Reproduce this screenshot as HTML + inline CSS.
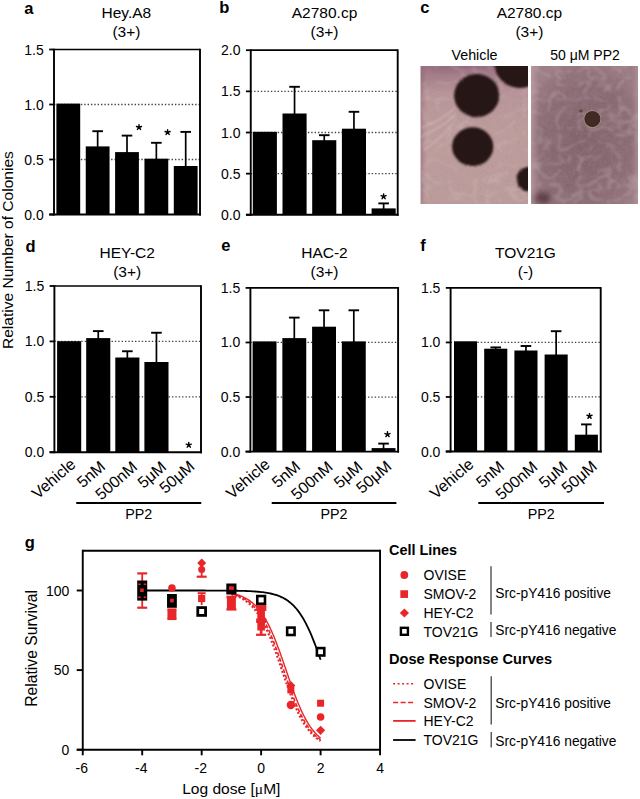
<!DOCTYPE html>
<html><head><meta charset="utf-8"><style>
html,body{margin:0;padding:0;background:#fff;}
svg{display:block;}
text{font-family:"Liberation Sans", sans-serif;}
</style></head><body>
<svg width="640" height="799" viewBox="0 0 640 799">
<rect width="640" height="799" fill="#fff"/>
<text x="24.20" y="13.50" font-size="16.5" text-anchor="start" font-weight="bold" fill="#000" >a</text>
<text x="126.40" y="17.90" font-size="15.5" text-anchor="middle" font-weight="normal" fill="#000" >Hey.A8</text>
<text x="126.40" y="37.00" font-size="15.5" text-anchor="middle" font-weight="normal" fill="#000" >(3+)</text>
<line x1="54.00" y1="159.50" x2="200.00" y2="159.50" stroke="#444" stroke-width="1.3" stroke-dasharray="1.4 1.96"/>
<line x1="54.00" y1="104.50" x2="200.00" y2="104.50" stroke="#444" stroke-width="1.3" stroke-dasharray="1.4 1.96"/>
<rect x="56.40" y="103.60" width="23.80" height="110.90" fill="#000" />
<rect x="85.75" y="146.40" width="23.80" height="68.10" fill="#000" />
<rect x="115.10" y="152.10" width="23.80" height="62.40" fill="#000" />
<rect x="144.45" y="158.70" width="23.80" height="55.80" fill="#000" />
<rect x="173.80" y="166.00" width="23.80" height="48.50" fill="#000" />
<line x1="97.65" y1="147.40" x2="97.65" y2="131.20" stroke="#000" stroke-width="1.7" />
<line x1="92.35" y1="131.20" x2="102.95" y2="131.20" stroke="#000" stroke-width="1.9" />
<line x1="127.00" y1="153.10" x2="127.00" y2="135.60" stroke="#000" stroke-width="1.7" />
<line x1="121.70" y1="135.60" x2="132.30" y2="135.60" stroke="#000" stroke-width="1.9" />
<line x1="156.35" y1="159.70" x2="156.35" y2="142.80" stroke="#000" stroke-width="1.7" />
<line x1="151.05" y1="142.80" x2="161.65" y2="142.80" stroke="#000" stroke-width="1.9" />
<line x1="185.70" y1="167.00" x2="185.70" y2="131.90" stroke="#000" stroke-width="1.7" />
<line x1="180.40" y1="131.90" x2="191.00" y2="131.90" stroke="#000" stroke-width="1.9" />
<path d="M139.00 127.30 L139.00 124.65 M139.00 127.30 L141.52 126.48 M139.00 127.30 L140.56 129.44 M139.00 127.30 L137.44 129.44 M139.00 127.30 L136.48 126.48 " stroke="#000" stroke-width="1.45" stroke-linecap="round" fill="none"/>
<path d="M167.60 132.30 L167.60 129.65 M167.60 132.30 L170.12 131.48 M167.60 132.30 L169.16 134.44 M167.60 132.30 L166.04 134.44 M167.60 132.30 L165.08 131.48 " stroke="#000" stroke-width="1.45" stroke-linecap="round" fill="none"/>
<line x1="54.00" y1="49.50" x2="200.00" y2="49.50" stroke="#000" stroke-width="1.7" />
<line x1="200.00" y1="48.65" x2="200.00" y2="215.45" stroke="#000" stroke-width="1.9" />
<line x1="54.00" y1="48.65" x2="54.00" y2="215.45" stroke="#000" stroke-width="1.9" />
<line x1="49.20" y1="214.50" x2="200.95" y2="214.50" stroke="#000" stroke-width="1.9" />
<line x1="49.20" y1="214.50" x2="54.00" y2="214.50" stroke="#000" stroke-width="1.8" />
<text x="43.80" y="219.50" font-size="14" text-anchor="end" font-weight="normal" fill="#000" >0.0</text>
<line x1="49.20" y1="159.50" x2="54.00" y2="159.50" stroke="#000" stroke-width="1.8" />
<text x="43.80" y="164.50" font-size="14" text-anchor="end" font-weight="normal" fill="#000" >0.5</text>
<line x1="49.20" y1="104.50" x2="54.00" y2="104.50" stroke="#000" stroke-width="1.8" />
<text x="43.80" y="109.50" font-size="14" text-anchor="end" font-weight="normal" fill="#000" >1.0</text>
<line x1="49.20" y1="49.50" x2="54.00" y2="49.50" stroke="#000" stroke-width="1.8" />
<text x="43.80" y="54.50" font-size="14" text-anchor="end" font-weight="normal" fill="#000" >1.5</text>
<text x="219.20" y="13.30" font-size="16.5" text-anchor="start" font-weight="bold" fill="#000" >b</text>
<text x="324.50" y="17.90" font-size="15.5" text-anchor="middle" font-weight="normal" fill="#000" >A2780.cp</text>
<text x="324.50" y="37.00" font-size="15.5" text-anchor="middle" font-weight="normal" fill="#000" >(3+)</text>
<line x1="250.75" y1="173.65" x2="397.70" y2="173.65" stroke="#444" stroke-width="1.3" stroke-dasharray="1.4 1.96"/>
<line x1="250.75" y1="132.50" x2="397.70" y2="132.50" stroke="#444" stroke-width="1.3" stroke-dasharray="1.4 1.96"/>
<line x1="250.75" y1="91.35" x2="397.70" y2="91.35" stroke="#444" stroke-width="1.3" stroke-dasharray="1.4 1.96"/>
<rect x="252.80" y="131.80" width="24.10" height="83.00" fill="#000" />
<rect x="282.50" y="113.50" width="24.10" height="101.30" fill="#000" />
<rect x="312.20" y="140.20" width="24.10" height="74.60" fill="#000" />
<rect x="341.90" y="128.70" width="24.10" height="86.10" fill="#000" />
<rect x="371.60" y="208.40" width="24.10" height="6.40" fill="#000" />
<line x1="294.55" y1="114.50" x2="294.55" y2="86.80" stroke="#000" stroke-width="1.7" />
<line x1="289.25" y1="86.80" x2="299.85" y2="86.80" stroke="#000" stroke-width="1.9" />
<line x1="324.25" y1="141.20" x2="324.25" y2="135.20" stroke="#000" stroke-width="1.7" />
<line x1="318.95" y1="135.20" x2="329.55" y2="135.20" stroke="#000" stroke-width="1.9" />
<line x1="353.95" y1="129.70" x2="353.95" y2="111.80" stroke="#000" stroke-width="1.7" />
<line x1="348.65" y1="111.80" x2="359.25" y2="111.80" stroke="#000" stroke-width="1.9" />
<line x1="383.65" y1="209.40" x2="383.65" y2="203.40" stroke="#000" stroke-width="1.7" />
<line x1="378.35" y1="203.40" x2="388.95" y2="203.40" stroke="#000" stroke-width="1.9" />
<path d="M383.60 196.50 L383.60 193.85 M383.60 196.50 L386.12 195.68 M383.60 196.50 L385.16 198.64 M383.60 196.50 L382.04 198.64 M383.60 196.50 L381.08 195.68 " stroke="#000" stroke-width="1.45" stroke-linecap="round" fill="none"/>
<line x1="250.75" y1="50.20" x2="397.70" y2="50.20" stroke="#000" stroke-width="1.7" />
<line x1="397.70" y1="49.35" x2="397.70" y2="215.75" stroke="#000" stroke-width="1.9" />
<line x1="250.75" y1="49.35" x2="250.75" y2="215.75" stroke="#000" stroke-width="1.9" />
<line x1="245.95" y1="214.80" x2="398.65" y2="214.80" stroke="#000" stroke-width="1.9" />
<line x1="245.95" y1="214.80" x2="250.75" y2="214.80" stroke="#000" stroke-width="1.8" />
<text x="240.55" y="219.80" font-size="14" text-anchor="end" font-weight="normal" fill="#000" >0.0</text>
<line x1="245.95" y1="173.65" x2="250.75" y2="173.65" stroke="#000" stroke-width="1.8" />
<text x="240.55" y="178.65" font-size="14" text-anchor="end" font-weight="normal" fill="#000" >0.5</text>
<line x1="245.95" y1="132.50" x2="250.75" y2="132.50" stroke="#000" stroke-width="1.8" />
<text x="240.55" y="137.50" font-size="14" text-anchor="end" font-weight="normal" fill="#000" >1.0</text>
<line x1="245.95" y1="91.35" x2="250.75" y2="91.35" stroke="#000" stroke-width="1.8" />
<text x="240.55" y="96.35" font-size="14" text-anchor="end" font-weight="normal" fill="#000" >1.5</text>
<line x1="245.95" y1="50.20" x2="250.75" y2="50.20" stroke="#000" stroke-width="1.8" />
<text x="240.55" y="55.20" font-size="14" text-anchor="end" font-weight="normal" fill="#000" >2.0</text>
<text x="25.50" y="251.70" font-size="16.5" text-anchor="start" font-weight="bold" fill="#000" >d</text>
<text x="127.20" y="257.80" font-size="15.5" text-anchor="middle" font-weight="normal" fill="#000" >HEY-C2</text>
<text x="127.20" y="276.50" font-size="15.5" text-anchor="middle" font-weight="normal" fill="#000" >(3+)</text>
<line x1="54.40" y1="396.80" x2="201.00" y2="396.80" stroke="#444" stroke-width="1.3" stroke-dasharray="1.4 1.96"/>
<line x1="54.40" y1="341.40" x2="201.00" y2="341.40" stroke="#444" stroke-width="1.3" stroke-dasharray="1.4 1.96"/>
<rect x="57.10" y="341.20" width="24.10" height="111.00" fill="#000" />
<rect x="86.20" y="338.10" width="24.10" height="114.10" fill="#000" />
<rect x="115.30" y="357.50" width="24.10" height="94.70" fill="#000" />
<rect x="144.40" y="362.00" width="24.10" height="90.20" fill="#000" />
<line x1="98.25" y1="339.10" x2="98.25" y2="331.10" stroke="#000" stroke-width="1.7" />
<line x1="92.95" y1="331.10" x2="103.55" y2="331.10" stroke="#000" stroke-width="1.9" />
<line x1="127.35" y1="358.50" x2="127.35" y2="351.25" stroke="#000" stroke-width="1.7" />
<line x1="122.05" y1="351.25" x2="132.65" y2="351.25" stroke="#000" stroke-width="1.9" />
<line x1="156.45" y1="363.00" x2="156.45" y2="332.75" stroke="#000" stroke-width="1.7" />
<line x1="151.15" y1="332.75" x2="161.75" y2="332.75" stroke="#000" stroke-width="1.9" />
<path d="M188.75 445.00 L188.75 442.35 M188.75 445.00 L191.27 444.18 M188.75 445.00 L190.31 447.14 M188.75 445.00 L187.19 447.14 M188.75 445.00 L186.23 444.18 " stroke="#000" stroke-width="1.45" stroke-linecap="round" fill="none"/>
<line x1="54.40" y1="286.00" x2="201.00" y2="286.00" stroke="#000" stroke-width="1.7" />
<line x1="201.00" y1="285.15" x2="201.00" y2="453.15" stroke="#000" stroke-width="1.9" />
<line x1="54.40" y1="285.15" x2="54.40" y2="453.15" stroke="#000" stroke-width="1.9" />
<line x1="49.60" y1="452.20" x2="201.95" y2="452.20" stroke="#000" stroke-width="1.9" />
<line x1="49.60" y1="452.20" x2="54.40" y2="452.20" stroke="#000" stroke-width="1.8" />
<text x="44.20" y="457.20" font-size="14" text-anchor="end" font-weight="normal" fill="#000" >0.0</text>
<line x1="49.60" y1="396.80" x2="54.40" y2="396.80" stroke="#000" stroke-width="1.8" />
<text x="44.20" y="401.80" font-size="14" text-anchor="end" font-weight="normal" fill="#000" >0.5</text>
<line x1="49.60" y1="341.40" x2="54.40" y2="341.40" stroke="#000" stroke-width="1.8" />
<text x="44.20" y="346.40" font-size="14" text-anchor="end" font-weight="normal" fill="#000" >1.0</text>
<line x1="49.60" y1="286.00" x2="54.40" y2="286.00" stroke="#000" stroke-width="1.8" />
<text x="44.20" y="291.00" font-size="14" text-anchor="end" font-weight="normal" fill="#000" >1.5</text>
<text x="221.20" y="250.90" font-size="16.5" text-anchor="start" font-weight="bold" fill="#000" >e</text>
<text x="324.50" y="257.80" font-size="15.5" text-anchor="middle" font-weight="normal" fill="#000" >HAC-2</text>
<text x="324.50" y="276.50" font-size="15.5" text-anchor="middle" font-weight="normal" fill="#000" >(3+)</text>
<line x1="250.40" y1="397.03" x2="398.10" y2="397.03" stroke="#444" stroke-width="1.3" stroke-dasharray="1.4 1.96"/>
<line x1="250.40" y1="342.47" x2="398.10" y2="342.47" stroke="#444" stroke-width="1.3" stroke-dasharray="1.4 1.96"/>
<rect x="252.60" y="341.40" width="23.90" height="110.20" fill="#000" />
<rect x="282.35" y="338.10" width="23.90" height="113.50" fill="#000" />
<rect x="312.10" y="326.70" width="23.90" height="124.90" fill="#000" />
<rect x="341.85" y="341.40" width="23.90" height="110.20" fill="#000" />
<rect x="371.60" y="448.10" width="23.90" height="3.50" fill="#000" />
<line x1="294.30" y1="339.10" x2="294.30" y2="317.60" stroke="#000" stroke-width="1.7" />
<line x1="289.00" y1="317.60" x2="299.60" y2="317.60" stroke="#000" stroke-width="1.9" />
<line x1="324.05" y1="327.70" x2="324.05" y2="310.30" stroke="#000" stroke-width="1.7" />
<line x1="318.75" y1="310.30" x2="329.35" y2="310.30" stroke="#000" stroke-width="1.9" />
<line x1="353.80" y1="342.40" x2="353.80" y2="310.30" stroke="#000" stroke-width="1.7" />
<line x1="348.50" y1="310.30" x2="359.10" y2="310.30" stroke="#000" stroke-width="1.9" />
<line x1="383.55" y1="449.10" x2="383.55" y2="443.60" stroke="#000" stroke-width="1.7" />
<line x1="378.25" y1="443.60" x2="388.85" y2="443.60" stroke="#000" stroke-width="1.9" />
<path d="M387.50 434.40 L387.50 431.75 M387.50 434.40 L390.02 433.58 M387.50 434.40 L389.06 436.54 M387.50 434.40 L385.94 436.54 M387.50 434.40 L384.98 433.58 " stroke="#000" stroke-width="1.45" stroke-linecap="round" fill="none"/>
<line x1="250.40" y1="287.90" x2="398.10" y2="287.90" stroke="#000" stroke-width="1.7" />
<line x1="398.10" y1="287.05" x2="398.10" y2="452.55" stroke="#000" stroke-width="1.9" />
<line x1="250.40" y1="287.05" x2="250.40" y2="452.55" stroke="#000" stroke-width="1.9" />
<line x1="245.60" y1="451.60" x2="399.05" y2="451.60" stroke="#000" stroke-width="1.9" />
<line x1="245.60" y1="451.60" x2="250.40" y2="451.60" stroke="#000" stroke-width="1.8" />
<text x="240.20" y="456.60" font-size="14" text-anchor="end" font-weight="normal" fill="#000" >0.0</text>
<line x1="245.60" y1="397.03" x2="250.40" y2="397.03" stroke="#000" stroke-width="1.8" />
<text x="240.20" y="402.03" font-size="14" text-anchor="end" font-weight="normal" fill="#000" >0.5</text>
<line x1="245.60" y1="342.47" x2="250.40" y2="342.47" stroke="#000" stroke-width="1.8" />
<text x="240.20" y="347.47" font-size="14" text-anchor="end" font-weight="normal" fill="#000" >1.0</text>
<line x1="245.60" y1="287.90" x2="250.40" y2="287.90" stroke="#000" stroke-width="1.8" />
<text x="240.20" y="292.90" font-size="14" text-anchor="end" font-weight="normal" fill="#000" >1.5</text>
<text x="420.30" y="251.00" font-size="16.5" text-anchor="start" font-weight="bold" fill="#000" >f</text>
<text x="525.50" y="257.80" font-size="15.5" text-anchor="middle" font-weight="normal" fill="#000" >TOV21G</text>
<text x="525.50" y="276.50" font-size="15.5" text-anchor="middle" font-weight="normal" fill="#000" >(-)</text>
<line x1="450.60" y1="396.97" x2="600.70" y2="396.97" stroke="#444" stroke-width="1.3" stroke-dasharray="1.4 1.96"/>
<line x1="450.60" y1="342.43" x2="600.70" y2="342.43" stroke="#444" stroke-width="1.3" stroke-dasharray="1.4 1.96"/>
<rect x="454.00" y="341.30" width="23.10" height="110.20" fill="#000" />
<rect x="484.20" y="348.70" width="23.10" height="102.80" fill="#000" />
<rect x="514.40" y="350.50" width="23.10" height="101.00" fill="#000" />
<rect x="544.60" y="354.50" width="23.10" height="97.00" fill="#000" />
<rect x="574.80" y="434.70" width="23.10" height="16.80" fill="#000" />
<line x1="495.75" y1="349.70" x2="495.75" y2="347.40" stroke="#000" stroke-width="1.7" />
<line x1="490.45" y1="347.40" x2="501.05" y2="347.40" stroke="#000" stroke-width="1.9" />
<line x1="525.95" y1="351.50" x2="525.95" y2="346.00" stroke="#000" stroke-width="1.7" />
<line x1="520.65" y1="346.00" x2="531.25" y2="346.00" stroke="#000" stroke-width="1.9" />
<line x1="556.15" y1="355.50" x2="556.15" y2="331.20" stroke="#000" stroke-width="1.7" />
<line x1="550.85" y1="331.20" x2="561.45" y2="331.20" stroke="#000" stroke-width="1.9" />
<line x1="586.35" y1="435.70" x2="586.35" y2="424.40" stroke="#000" stroke-width="1.7" />
<line x1="581.05" y1="424.40" x2="591.65" y2="424.40" stroke="#000" stroke-width="1.9" />
<path d="M589.50 416.10 L589.50 413.45 M589.50 416.10 L592.02 415.28 M589.50 416.10 L591.06 418.24 M589.50 416.10 L587.94 418.24 M589.50 416.10 L586.98 415.28 " stroke="#000" stroke-width="1.45" stroke-linecap="round" fill="none"/>
<line x1="450.60" y1="287.90" x2="600.70" y2="287.90" stroke="#000" stroke-width="1.7" />
<line x1="600.70" y1="287.05" x2="600.70" y2="452.45" stroke="#000" stroke-width="1.9" />
<line x1="450.60" y1="287.05" x2="450.60" y2="452.45" stroke="#000" stroke-width="1.9" />
<line x1="445.80" y1="451.50" x2="601.65" y2="451.50" stroke="#000" stroke-width="1.9" />
<line x1="445.80" y1="451.50" x2="450.60" y2="451.50" stroke="#000" stroke-width="1.8" />
<text x="440.40" y="456.50" font-size="14" text-anchor="end" font-weight="normal" fill="#000" >0.0</text>
<line x1="445.80" y1="396.97" x2="450.60" y2="396.97" stroke="#000" stroke-width="1.8" />
<text x="440.40" y="401.97" font-size="14" text-anchor="end" font-weight="normal" fill="#000" >0.5</text>
<line x1="445.80" y1="342.43" x2="450.60" y2="342.43" stroke="#000" stroke-width="1.8" />
<text x="440.40" y="347.43" font-size="14" text-anchor="end" font-weight="normal" fill="#000" >1.0</text>
<line x1="445.80" y1="287.90" x2="450.60" y2="287.90" stroke="#000" stroke-width="1.8" />
<text x="440.40" y="292.90" font-size="14" text-anchor="end" font-weight="normal" fill="#000" >1.5</text>
<text x="76.60" y="465.80" font-size="16" text-anchor="end" transform="rotate(-41 76.60 465.80)">Vehicle</text>
<text x="106.30" y="468.20" font-size="16" text-anchor="end" transform="rotate(-41 106.30 468.20)">5nM</text>
<text x="138.30" y="468.60" font-size="16" text-anchor="end" transform="rotate(-41 138.30 468.60)">500nM</text>
<text x="167.30" y="468.40" font-size="16" text-anchor="end" transform="rotate(-41 167.30 468.40)">5μM</text>
<text x="195.60" y="467.90" font-size="16" text-anchor="end" transform="rotate(-41 195.60 467.90)">50μM</text>
<text x="270.90" y="465.80" font-size="16" text-anchor="end" transform="rotate(-41 270.90 465.80)">Vehicle</text>
<text x="301.25" y="468.20" font-size="16" text-anchor="end" transform="rotate(-41 301.25 468.20)">5nM</text>
<text x="333.90" y="468.60" font-size="16" text-anchor="end" transform="rotate(-41 333.90 468.60)">500nM</text>
<text x="363.55" y="468.40" font-size="16" text-anchor="end" transform="rotate(-41 363.55 468.40)">5μM</text>
<text x="392.50" y="467.90" font-size="16" text-anchor="end" transform="rotate(-41 392.50 467.90)">50μM</text>
<text x="474.60" y="465.80" font-size="16" text-anchor="end" transform="rotate(-41 474.60 465.80)">Vehicle</text>
<text x="505.40" y="468.20" font-size="16" text-anchor="end" transform="rotate(-41 505.40 468.20)">5nM</text>
<text x="538.50" y="468.60" font-size="16" text-anchor="end" transform="rotate(-41 538.50 468.60)">500nM</text>
<text x="568.60" y="468.40" font-size="16" text-anchor="end" transform="rotate(-41 568.60 468.40)">5μM</text>
<text x="598.00" y="467.90" font-size="16" text-anchor="end" transform="rotate(-41 598.00 467.90)">50μM</text>
<line x1="76.25" y1="502.90" x2="201.25" y2="502.90" stroke="#000" stroke-width="2.0" />
<text x="138.75" y="519.30" font-size="14.3" text-anchor="middle" font-weight="normal" fill="#000" >PP2</text>
<line x1="271.70" y1="502.90" x2="396.40" y2="502.90" stroke="#000" stroke-width="2.0" />
<text x="334.05" y="519.30" font-size="14.3" text-anchor="middle" font-weight="normal" fill="#000" >PP2</text>
<line x1="478.30" y1="502.90" x2="604.00" y2="502.90" stroke="#000" stroke-width="2.0" />
<text x="541.15" y="519.30" font-size="14.3" text-anchor="middle" font-weight="normal" fill="#000" >PP2</text>
<text x="0" y="0" font-size="15.55" text-anchor="middle" transform="translate(13.4 250.1) rotate(-90)">Relative Number of Colonies</text>
<text x="420.30" y="13.30" font-size="16.5" text-anchor="start" font-weight="bold" fill="#000" >c</text>
<text x="529.40" y="17.90" font-size="15.5" text-anchor="middle" font-weight="normal" fill="#000" >A2780.cp</text>
<text x="529.40" y="37.00" font-size="15.5" text-anchor="middle" font-weight="normal" fill="#000" >(3+)</text>
<text x="474.50" y="59.70" font-size="14.3" text-anchor="middle" font-weight="normal" fill="#000" >Vehicle</text>
<text x="585.00" y="59.70" font-size="14" text-anchor="middle" font-weight="normal" fill="#000" >50 μM PP2</text>
<defs>
<filter id="blur1" x="-30%" y="-30%" width="160%" height="160%"><feGaussianBlur stdDeviation="0.9"/></filter>
<filter id="fuzz" x="-30%" y="-30%" width="160%" height="160%">
  <feTurbulence type="fractalNoise" baseFrequency="0.6" numOctaves="2" seed="7" result="t"/>
  <feDisplacementMap in="SourceGraphic" in2="t" scale="2.2" xChannelSelector="R" yChannelSelector="G" result="d"/>
  <feGaussianBlur in="d" stdDeviation="0.85"/>
</filter>
<filter id="blur05" x="-30%" y="-30%" width="160%" height="160%"><feGaussianBlur stdDeviation="0.5"/></filter>
<filter id="blur3" x="-50%" y="-50%" width="200%" height="200%"><feGaussianBlur stdDeviation="3"/></filter>
<filter id="blur15" x="-50%" y="-50%" width="200%" height="200%"><feGaussianBlur stdDeviation="1.5"/></filter>
<filter id="noiseL" x="0" y="0" width="100%" height="100%">
  <feTurbulence type="fractalNoise" baseFrequency="0.12" numOctaves="3" seed="5" result="n"/>
  <feColorMatrix in="n" type="matrix" values="0 0 0 0 0.45  0 0 0 0 0.35  0 0 0 0 0.38  0 0 0 -1.4 0.85" result="c"/>
  <feComposite in="c" in2="SourceGraphic" operator="in"/>
</filter>
<filter id="streakR" x="0" y="0" width="100%" height="100%">
  <feTurbulence type="turbulence" baseFrequency="0.05 0.07" numOctaves="2" seed="11" result="n"/>
  <feColorMatrix in="n" type="matrix" values="0 0 0 0 0.82  0 0 0 0 0.70  0 0 0 0 0.73  -7 0 0 0 1.25" result="c"/>
  <feGaussianBlur in="c" stdDeviation="0.9" result="b"/>
  <feComposite in="b" in2="SourceGraphic" operator="in"/>
</filter>
<filter id="streakL" x="0" y="0" width="100%" height="100%">
  <feTurbulence type="turbulence" baseFrequency="0.04 0.06" numOctaves="2" seed="4" result="n"/>
  <feColorMatrix in="n" type="matrix" values="0 0 0 0 0.86  0 0 0 0 0.76  0 0 0 0 0.77  -7 0 0 0 1.1" result="c"/>
  <feGaussianBlur in="c" stdDeviation="1.0" result="b"/>
  <feComposite in="b" in2="SourceGraphic" operator="in"/>
</filter>
<filter id="grain" x="0" y="0" width="100%" height="100%">
  <feTurbulence type="fractalNoise" baseFrequency="0.45" numOctaves="2" seed="21" result="n"/>
  <feColorMatrix in="n" type="matrix" values="0 0 0 0 0.35  0 0 0 0 0.25  0 0 0 0 0.28  0 0 0 -2.2 1.25" result="c"/>
  <feComposite in="c" in2="SourceGraphic" operator="in"/>
</filter>
<clipPath id="cp1"><rect x="420.4" y="66" width="107.6" height="138"/></clipPath>
<clipPath id="cp2"><rect x="531" y="66" width="107" height="138"/></clipPath>
<linearGradient id="g1" x1="0" y1="0" x2="0" y2="1">
 <stop offset="0" stop-color="#95687d"/><stop offset="0.07" stop-color="#a57e8a"/><stop offset="0.2" stop-color="#b9969a"/><stop offset="0.5" stop-color="#bf9e9d"/><stop offset="1" stop-color="#bd9d9c"/>
</linearGradient>
<linearGradient id="g1h" x1="0" y1="0" x2="1" y2="0">
 <stop offset="0" stop-color="#8a6070" stop-opacity="0.5"/><stop offset="0.06" stop-color="#8a6070" stop-opacity="0"/>
</linearGradient>
<linearGradient id="g2" x1="0" y1="0" x2="1" y2="1">
 <stop offset="0" stop-color="#917078"/><stop offset="0.5" stop-color="#8a6a72"/><stop offset="1" stop-color="#8e6e76"/>
</linearGradient>
<radialGradient id="rc" cx="0.5" cy="0.55" r="0.6">
 <stop offset="0" stop-color="#6e5560" stop-opacity="0.35"/><stop offset="0.6" stop-color="#6e5560" stop-opacity="0.1"/><stop offset="1" stop-color="#c8a8b0" stop-opacity="0.25"/>
</radialGradient>
<linearGradient id="redge" x1="0" y1="0" x2="1" y2="0">
 <stop offset="0" stop-color="#d4b8be" stop-opacity="0.45"/><stop offset="0.08" stop-color="#d4b8be" stop-opacity="0"/><stop offset="0.94" stop-color="#d4b8be" stop-opacity="0"/><stop offset="1" stop-color="#d4b8be" stop-opacity="0.3"/>
</linearGradient>
<radialGradient id="col" cx="0.5" cy="0.5" r="0.5">
 <stop offset="0" stop-color="#241616"/><stop offset="0.8" stop-color="#2a1b1b"/><stop offset="1" stop-color="#3a2828"/>
</radialGradient>
</defs>
<g clip-path="url(#cp1)">
 <rect x="420.4" y="66" width="107.6" height="138" fill="url(#g1)"/>
 <rect x="420.4" y="66" width="107.6" height="138" fill="url(#g1h)"/>
 <rect x="420.4" y="66" width="107.6" height="138" fill="#000" filter="url(#noiseL)" opacity="0.25"/>
 <rect x="420.4" y="66" width="107.6" height="138" fill="#000" filter="url(#streakL)" opacity="0.18"/>
 <rect x="420.4" y="66" width="107.6" height="138" fill="#000" filter="url(#grain)" opacity="0.2"/>
 <g fill="none" stroke="#dcc4c6" stroke-width="1.8" opacity="0.45" filter="url(#blur1)">
  <path d="M421 128 C 432 124, 444 118, 455 108"/>
  <path d="M421 137 C 434 131, 446 124, 456 114"/>
  <path d="M424 150 C 436 142, 446 132, 453 124"/>
 </g>
 <g filter="url(#fuzz)" fill="#281514">
  <ellipse cx="476.7" cy="95.6" rx="22.6" ry="21.6"/>
  <ellipse cx="472.7" cy="146.7" rx="20.6" ry="19.4"/>
  <circle cx="520" cy="62" r="26"/>
  <circle cx="529" cy="179" r="12.3"/>
 </g>
</g>
<g clip-path="url(#cp2)">
 <rect x="531" y="66" width="107" height="138" fill="url(#g2)"/>
 <rect x="531" y="66" width="107" height="138" fill="#000" filter="url(#noiseL)" opacity="0.25"/>
 <rect x="531" y="66" width="107" height="138" fill="url(#rc)"/>
 <rect x="531" y="66" width="107" height="138" fill="url(#redge)"/>
 <rect x="531" y="66" width="107" height="138" fill="#000" filter="url(#streakR)" opacity="0.22"/>
 <rect x="531" y="66" width="107" height="138" fill="#000" filter="url(#grain)" opacity="0.3"/>
 <circle cx="592.4" cy="119.1" r="8.8" fill="#b89a80" filter="url(#blur05)"/>
 <circle cx="592.4" cy="119.1" r="8.1" fill="#412c25" filter="url(#blur05)"/>
 <ellipse cx="581" cy="111" rx="2" ry="1.5" fill="#6a4040" filter="url(#blur05)"/>
 <ellipse cx="543" cy="198" rx="9" ry="6" fill="#5a3c44" filter="url(#blur3)"/>
</g>

<text x="24.80" y="548.00" font-size="16.5" text-anchor="start" font-weight="bold" fill="#000" >g</text>
<line x1="82.75" y1="550.70" x2="380.05" y2="550.70" stroke="#000" stroke-width="1.9" />
<line x1="380.05" y1="549.75" x2="380.05" y2="750.65" stroke="#000" stroke-width="1.9" />
<line x1="82.75" y1="549.75" x2="82.75" y2="750.65" stroke="#000" stroke-width="1.9" />
<line x1="76.75" y1="749.70" x2="381.00" y2="749.70" stroke="#000" stroke-width="1.9" />
<line x1="76.75" y1="749.70" x2="82.75" y2="749.70" stroke="#000" stroke-width="1.9" />
<text x="69.25" y="754.70" font-size="14" text-anchor="end" font-weight="normal" fill="#000" >0</text>
<line x1="76.75" y1="670.10" x2="82.75" y2="670.10" stroke="#000" stroke-width="1.9" />
<text x="69.25" y="675.10" font-size="14" text-anchor="end" font-weight="normal" fill="#000" >50</text>
<line x1="76.75" y1="590.50" x2="82.75" y2="590.50" stroke="#000" stroke-width="1.9" />
<text x="69.25" y="595.50" font-size="14" text-anchor="end" font-weight="normal" fill="#000" >100</text>
<line x1="82.75" y1="749.70" x2="82.75" y2="755.30" stroke="#000" stroke-width="1.9" />
<text x="81.85" y="773.20" font-size="14" text-anchor="middle" font-weight="normal" fill="#000" >-6</text>
<line x1="142.21" y1="749.70" x2="142.21" y2="755.30" stroke="#000" stroke-width="1.9" />
<text x="141.31" y="773.20" font-size="14" text-anchor="middle" font-weight="normal" fill="#000" >-4</text>
<line x1="201.67" y1="749.70" x2="201.67" y2="755.30" stroke="#000" stroke-width="1.9" />
<text x="200.77" y="773.20" font-size="14" text-anchor="middle" font-weight="normal" fill="#000" >-2</text>
<line x1="261.13" y1="749.70" x2="261.13" y2="755.30" stroke="#000" stroke-width="1.9" />
<text x="261.13" y="773.20" font-size="14" text-anchor="middle" font-weight="normal" fill="#000" >0</text>
<line x1="320.59" y1="749.70" x2="320.59" y2="755.30" stroke="#000" stroke-width="1.9" />
<text x="320.59" y="773.20" font-size="14" text-anchor="middle" font-weight="normal" fill="#000" >2</text>
<line x1="380.05" y1="749.70" x2="380.05" y2="755.30" stroke="#000" stroke-width="1.9" />
<text x="380.05" y="773.20" font-size="14" text-anchor="middle" font-weight="normal" fill="#000" >4</text>
<text x="231.30" y="794.00" font-size="15.55" text-anchor="middle" font-weight="normal" fill="#000" >Log dose [<tspan font-family="Liberation Serif">μ</tspan>M]</text>
<text x="0" y="0" font-size="15.7" text-anchor="middle" transform="translate(36.6 648.4) rotate(-90)">Relative Survival</text>
<path d="M231.40,594.27 L232.14,594.48 L232.89,594.70 L233.63,594.93 L234.37,595.17 L235.12,595.42 L235.86,595.69 L236.60,595.97 L237.35,596.27 L238.09,596.58 L238.83,596.91 L239.58,597.25 L240.32,597.61 L241.06,597.99 L241.81,598.40 L242.55,598.82 L243.29,599.26 L244.04,599.72 L244.78,600.21 L245.52,600.72 L246.27,601.25 L247.01,601.82 L247.75,602.40 L248.49,603.02 L249.24,603.67 L249.98,604.34 L250.72,605.05 L251.47,605.79 L252.21,606.56 L252.95,607.37 L253.70,608.21 L254.44,609.09 L255.18,610.01 L255.93,610.96 L256.67,611.96 L257.41,612.99 L258.16,614.07 L258.90,615.19 L259.64,616.35 L260.39,617.56 L261.13,618.81 L261.87,620.10 L262.62,621.44 L263.36,622.83 L264.10,624.26 L264.85,625.74 L265.59,627.26 L266.33,628.83 L267.08,630.45 L267.82,632.10 L268.56,633.81 L269.31,635.55 L270.05,637.34 L270.79,639.17 L271.54,641.03 L272.28,642.94 L273.02,644.88 L273.77,646.86 L274.51,648.86 L275.25,650.90 L276.00,652.96 L276.74,655.05 L277.48,657.16 L278.22,659.28 L278.97,661.43 L279.71,663.59 L280.45,665.75 L281.20,667.92 L281.94,670.10 L282.68,672.28 L283.43,674.45 L284.17,676.61 L284.91,678.77 L285.66,680.92 L286.40,683.04 L287.14,685.15 L287.89,687.24 L288.63,689.30 L289.37,691.34 L290.12,693.34 L290.86,695.32 L291.60,697.26 L292.35,699.17 L293.09,701.03 L293.83,702.86 L294.58,704.65 L295.32,706.39 L296.06,708.10 L296.81,709.75 L297.55,711.37 L298.29,712.94 L299.04,714.46 L299.78,715.94 L300.52,717.37 L301.27,718.76 L302.01,720.10 L302.75,721.39 L303.50,722.64 L304.24,723.85 L304.98,725.01 L305.73,726.13 L306.47,727.21 L307.21,728.24 L307.95,729.24 L308.70,730.19 L309.44,731.11 L310.18,731.99 L310.93,732.83 L311.67,733.64 L312.41,734.41 L313.16,735.15 L313.90,735.86 L314.64,736.53 L315.39,737.18 L316.13,737.80 L316.87,738.38 L317.62,738.95 L318.36,739.48 L319.10,739.99 L319.85,740.48 L320.59,740.94" fill="none" stroke="#e8262a" stroke-width="2.2" stroke-dasharray="2 2"/>
<path d="M231.40,593.82 L232.14,594.00 L232.89,594.19 L233.63,594.39 L234.37,594.61 L235.12,594.83 L235.86,595.07 L236.60,595.32 L237.35,595.58 L238.09,595.86 L238.83,596.15 L239.58,596.45 L240.32,596.77 L241.06,597.11 L241.81,597.47 L242.55,597.84 L243.29,598.23 L244.04,598.64 L244.78,599.08 L245.52,599.53 L246.27,600.01 L247.01,600.51 L247.75,601.04 L248.49,601.59 L249.24,602.17 L249.98,602.77 L250.72,603.40 L251.47,604.07 L252.21,604.76 L252.95,605.49 L253.70,606.25 L254.44,607.04 L255.18,607.87 L255.93,608.73 L256.67,609.64 L257.41,610.57 L258.16,611.55 L258.90,612.57 L259.64,613.63 L260.39,614.74 L261.13,615.88 L261.87,617.07 L262.62,618.30 L263.36,619.58 L264.10,620.90 L264.85,622.27 L265.59,623.68 L266.33,625.14 L267.08,626.65 L267.82,628.20 L268.56,629.80 L269.31,631.44 L270.05,633.12 L270.79,634.85 L271.54,636.62 L272.28,638.43 L273.02,640.28 L273.77,642.17 L274.51,644.10 L275.25,646.06 L276.00,648.06 L276.74,650.08 L277.48,652.13 L278.22,654.21 L278.97,656.31 L279.71,658.43 L280.45,660.57 L281.20,662.72 L281.94,664.88 L282.68,667.05 L283.43,669.23 L284.17,671.41 L284.91,673.58 L285.66,675.75 L286.40,677.91 L287.14,680.06 L287.89,682.19 L288.63,684.31 L289.37,686.41 L290.12,688.48 L290.86,690.53 L291.60,692.55 L292.35,694.53 L293.09,696.49 L293.83,698.41 L294.58,700.29 L295.32,702.13 L296.06,703.94 L296.81,705.70 L297.55,707.42 L298.29,709.10 L299.04,710.73 L299.78,712.31 L300.52,713.86 L301.27,715.35 L302.01,716.80 L302.75,718.21 L303.50,719.57 L304.24,720.88 L304.98,722.15 L305.73,723.37 L306.47,724.55 L307.21,725.69 L307.95,726.78 L308.70,727.83 L309.44,728.84 L310.18,729.82 L310.93,730.75 L311.67,731.64 L312.41,732.50 L313.16,733.32 L313.90,734.11 L314.64,734.86 L315.39,735.58 L316.13,736.27 L316.87,736.92 L317.62,737.55 L318.36,738.15 L319.10,738.72 L319.85,739.27 L320.59,739.79" fill="none" stroke="#e8262a" stroke-width="1.6" stroke-dasharray="4 2"/>
<path d="M231.40,593.29 L232.14,593.45 L232.89,593.61 L233.63,593.78 L234.37,593.96 L235.12,594.15 L235.86,594.35 L236.60,594.56 L237.35,594.79 L238.09,595.02 L238.83,595.27 L239.58,595.53 L240.32,595.80 L241.06,596.09 L241.81,596.39 L242.55,596.71 L243.29,597.04 L244.04,597.39 L244.78,597.76 L245.52,598.15 L246.27,598.56 L247.01,598.99 L247.75,599.44 L248.49,599.91 L249.24,600.41 L249.98,600.93 L250.72,601.48 L251.47,602.05 L252.21,602.65 L252.95,603.28 L253.70,603.93 L254.44,604.62 L255.18,605.34 L255.93,606.09 L256.67,606.88 L257.41,607.70 L258.16,608.56 L258.90,609.45 L259.64,610.38 L260.39,611.36 L261.13,612.37 L261.87,613.42 L262.62,614.51 L263.36,615.65 L264.10,616.83 L264.85,618.05 L265.59,619.32 L266.33,620.63 L267.08,621.99 L267.82,623.40 L268.56,624.85 L269.31,626.34 L270.05,627.89 L270.79,629.47 L271.54,631.10 L272.28,632.78 L273.02,634.50 L273.77,636.26 L274.51,638.07 L275.25,639.91 L276.00,641.79 L276.74,643.71 L277.48,645.67 L278.22,647.65 L278.97,649.67 L279.71,651.72 L280.45,653.79 L281.20,655.89 L281.94,658.01 L282.68,660.14 L283.43,662.29 L284.17,664.45 L284.91,666.62 L285.66,668.79 L286.40,670.97 L287.14,673.15 L287.89,675.32 L288.63,677.48 L289.37,679.63 L290.12,681.77 L290.86,683.89 L291.60,685.99 L292.35,688.07 L293.09,690.12 L293.83,692.14 L294.58,694.14 L295.32,696.10 L296.06,698.03 L296.81,699.92 L297.55,701.77 L298.29,703.58 L299.04,705.35 L299.78,707.08 L300.52,708.76 L301.27,710.40 L302.01,712.00 L302.75,713.55 L303.50,715.06 L304.24,716.52 L304.98,717.93 L305.73,719.30 L306.47,720.62 L307.21,721.90 L307.95,723.13 L308.70,724.32 L309.44,725.46 L310.18,726.57 L310.93,727.63 L311.67,728.65 L312.41,729.63 L313.16,730.56 L313.90,731.47 L314.64,732.33 L315.39,733.16 L316.13,733.95 L316.87,734.71 L317.62,735.44 L318.36,736.13 L319.10,736.80 L319.85,737.43 L320.59,738.03" fill="none" stroke="#e8262a" stroke-width="1.4" />
<path d="M142.21,590.50 L143.70,590.50 L145.18,590.50 L146.67,590.50 L148.16,590.50 L149.64,590.50 L151.13,590.50 L152.62,590.50 L154.10,590.50 L155.59,590.50 L157.07,590.50 L158.56,590.50 L160.05,590.50 L161.53,590.50 L163.02,590.50 L164.51,590.50 L165.99,590.50 L167.48,590.50 L168.97,590.50 L170.45,590.50 L171.94,590.50 L173.43,590.50 L174.91,590.50 L176.40,590.50 L177.89,590.50 L179.37,590.50 L180.86,590.50 L182.35,590.50 L183.83,590.51 L185.32,590.51 L186.81,590.51 L188.29,590.51 L189.78,590.51 L191.26,590.51 L192.75,590.51 L194.24,590.51 L195.72,590.51 L197.21,590.51 L198.70,590.52 L200.18,590.52 L201.67,590.52 L203.16,590.52 L204.64,590.52 L206.13,590.53 L207.62,590.53 L209.10,590.53 L210.59,590.54 L212.08,590.54 L213.56,590.55 L215.05,590.55 L216.53,590.56 L218.02,590.56 L219.51,590.57 L220.99,590.58 L222.48,590.59 L223.97,590.60 L225.45,590.61 L226.94,590.62 L228.43,590.64 L229.91,590.65 L231.40,590.67 L232.89,590.69 L234.37,590.71 L235.86,590.74 L237.35,590.77 L238.83,590.80 L240.32,590.83 L241.81,590.87 L243.29,590.91 L244.78,590.96 L246.27,591.01 L247.75,591.07 L249.24,591.14 L250.72,591.21 L252.21,591.30 L253.70,591.39 L255.18,591.49 L256.67,591.60 L258.16,591.73 L259.64,591.87 L261.13,592.03 L262.62,592.20 L264.10,592.40 L265.59,592.61 L267.08,592.85 L268.56,593.12 L270.05,593.42 L271.54,593.75 L273.02,594.11 L274.51,594.52 L276.00,594.97 L277.48,595.47 L278.97,596.03 L280.45,596.64 L281.94,597.32 L283.43,598.07 L284.91,598.90 L286.40,599.82 L287.89,600.82 L289.37,601.93 L290.86,603.15 L292.35,604.48 L293.83,605.94 L295.32,607.53 L296.81,609.27 L298.29,611.16 L299.78,613.20 L301.27,615.42 L302.75,617.80 L304.24,620.37 L305.73,623.11 L307.21,626.04 L308.70,629.15 L310.18,632.44 L311.67,635.91 L313.16,639.54 L314.64,643.33 L316.13,647.25 L317.62,651.31 L319.10,655.47 L320.59,659.71" fill="none" stroke="#000" stroke-width="1.8" />
<line x1="142.21" y1="573.40" x2="142.21" y2="607.70" stroke="#e8262a" stroke-width="1.8" />
<line x1="137.21" y1="573.40" x2="147.21" y2="573.40" stroke="#e8262a" stroke-width="2.2" />
<line x1="137.21" y1="607.70" x2="147.21" y2="607.70" stroke="#e8262a" stroke-width="2.2" />
<rect x="137.21" y="580.50" width="10.00" height="20.10" fill="#000" />
<line x1="138.21" y1="584.20" x2="146.21" y2="584.20" stroke="#e8262a" stroke-width="1.6" stroke-dasharray="2.5 3"/>
<line x1="138.21" y1="597.30" x2="146.21" y2="597.30" stroke="#e8262a" stroke-width="1.6" stroke-dasharray="2.5 3"/>
<rect x="140.21" y="588.50" width="3.50" height="3.50" fill="#e8262a" />
<circle cx="171.94" cy="588.00" r="3.8" fill="#e8262a"/>
<line x1="171.94" y1="609.50" x2="171.94" y2="619.00" stroke="#e8262a" stroke-width="1.8" />
<line x1="167.44" y1="609.50" x2="176.44" y2="609.50" stroke="#e8262a" stroke-width="2.2" />
<line x1="167.44" y1="619.00" x2="176.44" y2="619.00" stroke="#e8262a" stroke-width="2.2" />
<rect x="167.44" y="609.50" width="9.00" height="9.50" fill="#e8262a" />
<rect x="167.04" y="594.00" width="9.80" height="13.80" fill="#000" />
<rect x="170.14" y="598.80" width="3.60" height="3.60" fill="#e8262a" />
<path d="M201.67 558.50 L206.17 563.00 L201.67 567.50 L197.17 563.00Z" fill="#e8262a"/>
<circle cx="201.67" cy="569.50" r="3.5" fill="#e8262a"/>
<line x1="201.67" y1="565.00" x2="201.67" y2="576.50" stroke="#e8262a" stroke-width="1.8" />
<line x1="196.67" y1="576.70" x2="206.67" y2="576.70" stroke="#e8262a" stroke-width="2.2" />
<line x1="201.67" y1="593.00" x2="201.67" y2="605.00" stroke="#e8262a" stroke-width="1.8" />
<line x1="197.67" y1="593.20" x2="205.67" y2="593.20" stroke="#e8262a" stroke-width="2" />
<rect x="198.07" y="594.90" width="7.20" height="7.20" fill="#e8262a" />
<rect x="197.77" y="607.60" width="7.80" height="7.80" fill="#fff" stroke="#000" stroke-width="2.8"/>
<rect x="226.30" y="583.50" width="10.20" height="11.00" fill="#000" />
<rect x="228.90" y="586.30" width="5.00" height="3.50" fill="#e8262a" />
<line x1="231.40" y1="596.80" x2="231.40" y2="609.50" stroke="#e8262a" stroke-width="1.8" />
<line x1="226.40" y1="596.80" x2="236.40" y2="596.80" stroke="#e8262a" stroke-width="2.2" />
<line x1="226.40" y1="609.50" x2="236.40" y2="609.50" stroke="#e8262a" stroke-width="2.2" />
<rect x="226.90" y="597.00" width="9.00" height="12.00" fill="#e8262a" />
<rect x="256.13" y="604.50" width="10.20" height="6.50" fill="#e8262a" />
<rect x="257.33" y="610.00" width="7.60" height="20.50" fill="#e8262a" />
<rect x="256.13" y="618.50" width="10.20" height="4.50" fill="#e8262a" />
<rect x="259.83" y="629.00" width="2.60" height="6.00" fill="#e8262a" />
<line x1="256.03" y1="634.80" x2="266.23" y2="634.80" stroke="#e8262a" stroke-width="2.2" />
<rect x="257.28" y="596.05" width="7.70" height="7.70" fill="#fff" stroke="#000" stroke-width="2.6"/>
<path d="M290.86 681.00 L295.36 685.50 L290.86 690.00 L286.36 685.50Z" fill="#e8262a"/>
<rect x="287.36" y="686.50" width="7.00" height="7.00" fill="#e8262a" />
<circle cx="290.86" cy="705.00" r="4.2" fill="#e8262a"/>
<rect x="287.16" y="627.60" width="7.40" height="7.40" fill="#fff" stroke="#000" stroke-width="2.6"/>
<rect x="317.09" y="699.70" width="7.00" height="7.00" fill="#e8262a" />
<circle cx="320.59" cy="717.00" r="3.8" fill="#e8262a"/>
<path d="M320.59 725.70 L325.19 730.30 L320.59 734.90 L315.99 730.30Z" fill="#e8262a"/>
<rect x="316.89" y="648.10" width="7.40" height="7.40" fill="#fff" stroke="#000" stroke-width="2.6"/>
<text x="389.00" y="555.30" font-size="14.4" text-anchor="start" font-weight="bold" fill="#000" >Cell Lines</text>
<circle cx="404.30" cy="575.00" r="3.9" fill="#e8262a"/>
<rect x="400.35" y="590.25" width="7.70" height="7.70" fill="#e8262a" />
<path d="M404.40 608.40 L409.00 613.00 L404.40 617.60 L399.80 613.00Z" fill="#e8262a"/>
<rect x="400.90" y="627.80" width="7.00" height="7.00" fill="#fff" stroke="#000" stroke-width="2.4"/>
<text x="423.50" y="580.25" font-size="14" text-anchor="start" font-weight="normal" fill="#000" >OVISE</text>
<text x="423.50" y="599.40" font-size="14" text-anchor="start" font-weight="normal" fill="#000" >SMOV-2</text>
<text x="423.50" y="618.10" font-size="14" text-anchor="start" font-weight="normal" fill="#000" >HEY-C2</text>
<text x="423.50" y="636.50" font-size="14" text-anchor="start" font-weight="normal" fill="#000" >TOV21G</text>
<line x1="491.00" y1="566.20" x2="491.00" y2="614.50" stroke="#333" stroke-width="1.2" />
<line x1="491.00" y1="622.00" x2="491.00" y2="637.00" stroke="#333" stroke-width="1.2" />
<text x="495.20" y="597.50" font-size="13.8" text-anchor="start" font-weight="normal" fill="#000" >Src-pY416 positive</text>
<text x="495.20" y="635.00" font-size="13.8" text-anchor="start" font-weight="normal" fill="#000" >Src-pY416 negative</text>
<text x="389.00" y="664.00" font-size="14.6" text-anchor="start" font-weight="bold" fill="#000" >Dose Response Curves</text>
<line x1="393.10" y1="683.75" x2="415.60" y2="683.75" stroke="#e8262a" stroke-width="1.6" stroke-dasharray="2 2.5"/>
<line x1="393.10" y1="702.50" x2="415.60" y2="702.50" stroke="#e8262a" stroke-width="1.6" stroke-dasharray="5 2.5"/>
<line x1="393.10" y1="720.90" x2="415.60" y2="720.90" stroke="#e8262a" stroke-width="1.8" />
<line x1="393.10" y1="740.00" x2="415.60" y2="740.00" stroke="#000" stroke-width="1.8" />
<text x="423.50" y="688.80" font-size="14" text-anchor="start" font-weight="normal" fill="#000" >OVISE</text>
<text x="423.50" y="707.60" font-size="14" text-anchor="start" font-weight="normal" fill="#000" >SMOV-2</text>
<text x="423.50" y="726.30" font-size="14" text-anchor="start" font-weight="normal" fill="#000" >HEY-C2</text>
<text x="423.50" y="745.00" font-size="14" text-anchor="start" font-weight="normal" fill="#000" >TOV21G</text>
<line x1="491.20" y1="676.25" x2="491.20" y2="724.50" stroke="#333" stroke-width="1.2" />
<line x1="491.20" y1="732.00" x2="491.20" y2="747.50" stroke="#333" stroke-width="1.2" />
<text x="495.20" y="707.50" font-size="13.8" text-anchor="start" font-weight="normal" fill="#000" >Src-pY416 positive</text>
<text x="495.20" y="746.30" font-size="13.8" text-anchor="start" font-weight="normal" fill="#000" >Src-pY416 negative</text>
</svg>
</body></html>
